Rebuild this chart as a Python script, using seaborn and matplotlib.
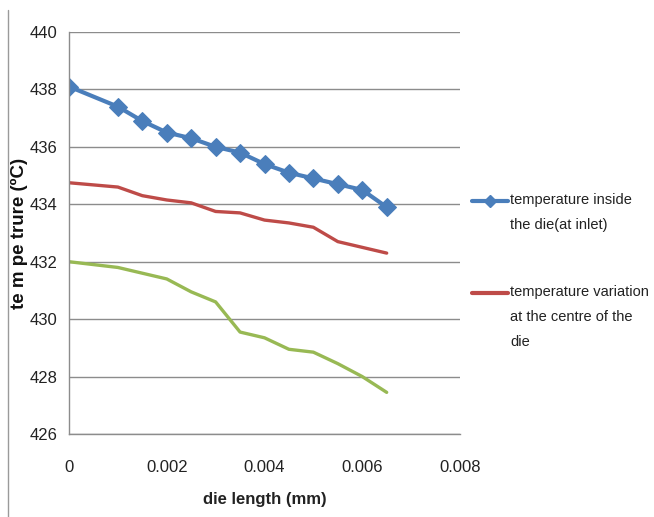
import matplotlib
matplotlib.use("Agg")
import matplotlib.pyplot as plt
import seaborn as sns
import pandas as pd
from matplotlib.lines import Line2D

die_length = [0.0, 0.001, 0.0015, 0.002, 0.0025, 0.003, 0.0035, 0.004, 0.0045, 0.005, 0.0055, 0.006, 0.0065]
temp_inlet = [438.1, 437.4, 436.9, 436.5, 436.3, 436.0, 435.8, 435.4, 435.1, 434.9, 434.7, 434.5, 433.9]
temp_centre = [434.75, 434.6, 434.3, 434.15, 434.05, 433.75, 433.7, 433.45, 433.35, 433.2, 432.7, 432.5, 432.3]
temp_third = [432.0, 431.8, 431.6, 431.4, 430.95, 430.6, 429.55, 429.35, 428.95, 428.85, 428.45, 428.0, 427.45]

label_inlet = "temperature inside\nthe die(at inlet)"
label_centre = "temperature variation\nat the centre of the\ndie"

x_ticks = [0, 0.002, 0.004, 0.006, 0.008]
x_tick_labels = ["0", "0.002", "0.004", "0.006", "0.008"]
y_ticks = [426, 428, 430, 432, 434, 436, 438, 440]

sns.set_theme(style="white")
plt.rcParams['font.family'] = ['Liberation Sans', 'DejaVu Sans']

W, H = 654, 517
fig = plt.figure(figsize=(W / 100, H / 100), dpi=100)
ax = fig.add_axes([69/W, 1 - 434/H, (460-69)/W, (434-32)/H])

df = pd.DataFrame({"x": die_length, "inlet": temp_inlet, "centre": temp_centre, "third": temp_third})

blue = "#4a7ebb"
red = "#be4b48"
green = "#98b954"

sns.lineplot(data=df, x="x", y="third", ax=ax, color=green, linewidth=2.4)
sns.lineplot(data=df, x="x", y="centre", ax=ax, color=red, linewidth=2.4)
sns.lineplot(data=df, x="x", y="inlet", ax=ax, color=blue, linewidth=3.0,
             marker="D", markersize=9, markeredgecolor=blue)

ax.set_xlim(0, 0.008)
ax.set_ylim(426, 440)
ax.set_xticks(x_ticks)
ax.set_xticklabels(x_tick_labels)
ax.set_yticks(y_ticks)
ax.yaxis.grid(True, color="#8c8c8c", linewidth=1.0)
ax.xaxis.grid(False)
ax.set_axisbelow(True)
for s in ["top", "right"]:
    ax.spines[s].set_visible(False)
for s in ["left", "bottom"]:
    ax.spines[s].set_color("#8c8c8c")
    ax.spines[s].set_linewidth(1.0)
ax.tick_params(axis="both", which="major", direction="out", length=5, width=1,
               color="#8c8c8c", labelsize=12, labelcolor="#222222")
ax.tick_params(axis="x", pad=14)
ax.set_xlabel("die length (mm)", fontsize=12, fontweight="bold", color="#222222")
ax.xaxis.set_label_coords((265-69)/391, -(492-434)/402)
ax.set_ylabel("te m pe trure (ºC)", fontsize=13.5, fontweight="bold", color="#111111")
ax.yaxis.set_label_coords((28-69)/391, 0.5)

# legend drawn in figure pixel coordinates (handles aligned with first text line)
def fx(px):
    return px / W

def fy(py):
    return 1 - py / H

legend_entries = [
    (label_inlet, blue, True, 201),
    (label_centre, red, False, 293),
]
for text, col, has_marker, ypix in legend_entries:
    fig.add_artist(Line2D([fx(472), fx(508)], [fy(ypix), fy(ypix)], color=col,
                          linewidth=3.0))
    if has_marker:
        fig.add_artist(Line2D([fx(490)], [fy(ypix)], color=col, marker="D",
                              markersize=6, linestyle="none"))
    fig.text(fx(510), fy(ypix - 8), text, fontsize=10.5, color="#222222",
             ha="left", va="top", linespacing=2.0)

fig.add_artist(Line2D([8/W, 8/W], [0, 1 - 10/H], color="#9a9a9a", linewidth=1.0))

fig.savefig("out.png", dpi=100, facecolor="white")
